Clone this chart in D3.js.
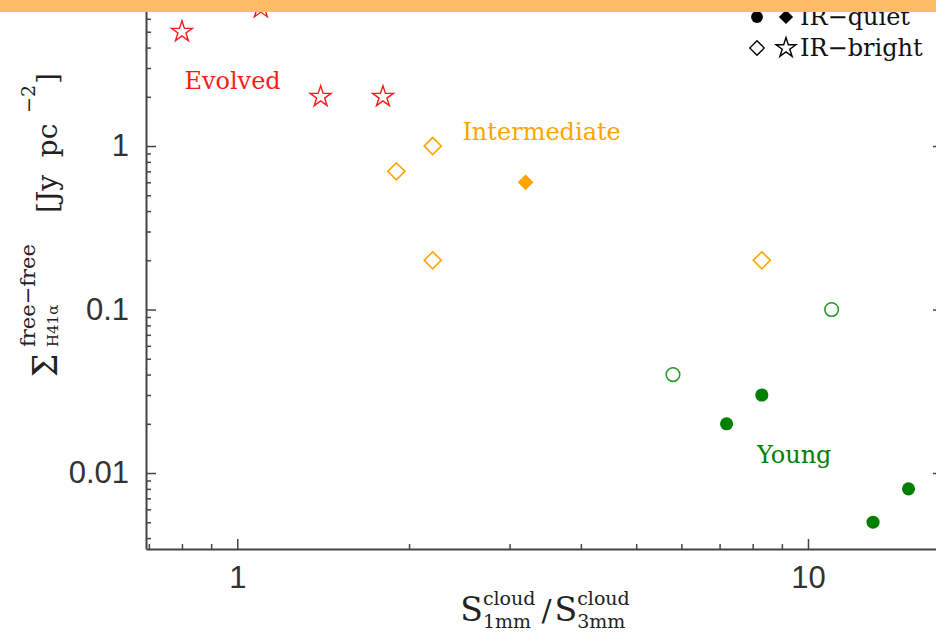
<!DOCTYPE html>
<html><head><meta charset="utf-8">
<script src="https://cdn.jsdelivr.net/npm/d3@7"></script>
<style>
body{margin:0;background:#fff}
svg{display:block}
.axis .domain{stroke:#444;stroke-width:2}
.axis line{stroke:#444;stroke-width:1.5}
.axis text{font-family:"Liberation Sans",Arial,sans-serif;font-size:31px;fill:#333}
.serif{font-family:"DejaVu Serif",serif}
</style>
</head><body><svg id="c" width="936" height="633"></svg>
<script>
// ---------------- data ----------------
const evolvedBrightX = [0.8, 1.1, 1.4, 1.8];
const evolvedBrightY = [5, 7, 2, 2];
const interBrightX = [1.9, 2.2, 2.2, 8.3];
const interBrightY = [0.7, 1, 0.2, 0.2];
const interQuietX = [3.2];
const interQuietY = [0.6];
const youngBrightX = [5.8, 11];
const youngBrightY = [0.04, 0.1];
const youngQuietX = [7.2, 8.3, 13, 15];
const youngQuietY = [0.02, 0.03, 0.005, 0.008];
const xMajorTicks = [1, 10];
const xTickLabels = ["1", "10"];
const yMajorTicks = [0.01, 0.1, 1];
const yTickLabels = ["0.01", "0.1", "1"];
const groupLabels = ["Evolved", "Intermediate", "Young"];
const legendLabels = ["IR\u2212quiet", "IR\u2212bright"];

// ---------------- setup ----------------
const svg = d3.select("#c");
const W = 936, H = 633;
const L = 146, R = 943, T = -4, B = 549;
const x = d3.scaleLog().domain([0.692, 17.24]).range([L, R]);
const y = d3.scaleLog().domain([0.00343, 8.27]).range([B, T]);

function minorTicks(dom) {
  const out = [];
  for (let e = -4; e <= 2; e++) for (let m = 2; m <= 9; m++) {
    const v = m * Math.pow(10, e);
    if (v > dom[0] && v < dom[1]) out.push(+v.toPrecision(3));
  }
  return out;
}
const xMinor = minorTicks(x.domain());
const yMinor = minorTicks(y.domain());

// axes
const axes = svg.append("g").attr("class", "axis");
axes.append("g").attr("transform", `translate(0,${B})`)
  .call(d3.axisBottom(x).tickValues(xMajorTicks).tickSize(-10).tickSizeOuter(0).tickPadding(17)
    .tickFormat((d, i) => xTickLabels[i]));
axes.append("g").attr("transform", `translate(0,${B})`)
  .call(d3.axisBottom(x).tickValues(xMinor).tickSize(-5).tickSizeOuter(0).tickFormat(""))
  .select(".domain").remove();
axes.append("g").attr("transform", `translate(${L},0)`)
  .call(d3.axisLeft(y).tickValues(yMajorTicks).tickSize(-10).tickSizeOuter(0).tickPadding(17)
    .tickFormat((d, i) => yTickLabels[i]));
axes.append("g").attr("transform", `translate(${L},0)`)
  .call(d3.axisLeft(y).tickValues(yMinor).tickSize(-5).tickSizeOuter(0).tickFormat(""))
  .select(".domain").remove();
axes.append("g").attr("transform", `translate(${R},0)`)
  .call(d3.axisRight(y).tickValues(yMajorTicks).tickSize(-10).tickSizeOuter(0).tickFormat(""));
axes.append("g").attr("transform", `translate(${R},0)`)
  .call(d3.axisRight(y).tickValues(yMinor).tickSize(-5).tickSizeOuter(0).tickFormat(""))
  .select(".domain").remove();
axes.append("g").attr("transform", `translate(0,${T})`)
  .call(d3.axisTop(x).tickValues(xMajorTicks).tickSize(-10).tickSizeOuter(0).tickFormat(""));
axes.append("g").attr("transform", `translate(0,${T})`)
  .call(d3.axisTop(x).tickValues(xMinor).tickSize(-5).tickSizeOuter(0).tickFormat(""))
  .select(".domain").remove();

// ---------------- markers ----------------
const RED = "#ff1a1a", ORANGE = "#ffa500", GREEN = "#008000";
const star = d3.symbol().type(d3.symbolStar).size(135)();
const diamondOpen = d3.symbol().type(d3.symbolSquare).size(145)();
const diamondFill = d3.symbol().type(d3.symbolSquare).size(125)();
const circleFill = d3.symbol().type(d3.symbolCircle).size(135)();
const circleOpen = d3.symbol().type(d3.symbolCircle).size(145)();

function plot(xs, ys, path, rot, fill, stroke, sw) {
  svg.append("g").selectAll("path").data(xs.map((v, i) => [v, ys[i]])).join("path")
    .attr("d", path)
    .attr("transform", d => `translate(${x(d[0])},${y(d[1])}) rotate(${rot})`)
    .attr("fill", fill).attr("stroke", stroke).attr("stroke-width", sw);
}
plot(evolvedBrightX, evolvedBrightY, star, 0, "none", RED, 1.4);
plot(interBrightX, interBrightY, diamondOpen, 45, "none", ORANGE, 1.6);
plot(interQuietX, interQuietY, diamondFill, 45, ORANGE, "none", 0);
plot(youngBrightX, youngBrightY, circleOpen, 0, "none", "#2a9a2a", 1.6);
plot(youngQuietX, youngQuietY, circleFill, 0, GREEN, "none", 0);

// ---------------- group labels ----------------
const groupPos = [[0.808, 2.23, RED], [2.48, 1.088, ORANGE], [8.14, 0.0115, GREEN]];
groupLabels.forEach((t, i) => {
  svg.append("text").attr("class", "serif")
    .attr("x", x(groupPos[i][0])).attr("y", y(groupPos[i][1]))
    .attr("fill", groupPos[i][2]).style("font-size", "24px").text(t);
});

// ---------------- legend ----------------
const lg = svg.append("g");
const legendRows = [
  {y: 17, m1: [circleFill, 0, "#000", "none", 0.9], m2: [diamondFill, 45, "#000", "none", 0.9]},
  {y: 48, m1: [diamondOpen, 45, "none", "#000", 0.85], m2: [star, 0, "none", "#000", 0.95]}
];
legendRows.forEach((r, i) => {
  [[757, r.m1], [786, r.m2]].forEach(([cx, m]) => {
    lg.append("path").attr("d", m[0])
      .attr("transform", `translate(${cx},${r.y}) rotate(${m[1]}) scale(${m[4]})`)
      .attr("fill", m[2]).attr("stroke", m[3]).attr("stroke-width", 1.5);
  });
  lg.append("text").attr("class", "serif").attr("x", 800).attr("y", r.y + 8)
    .style("font-size", "24px").attr("fill", "#111").text(legendLabels[i]);
});

// ---------------- x title (math style) ----------------
function mathLabel(g, items) {
  let cur = 0;
  items.forEach(it => {
    if (it.gap) { cur += it.gap; return; }
    if (it.text !== undefined) {
      const t = g.append("text").attr("class", "serif").attr("x", cur).attr("y", 0)
        .style("font-size", it.size + "px").attr("fill", "#222").text(it.text);
      cur += t.node().getComputedTextLength();
    }
    let w = 0;
    if (it.sup) {
      const t = g.append("text").attr("class", "serif").attr("x", cur).attr("y", it.supDy)
        .style("font-size", it.supSize + "px").attr("fill", "#222").text(it.sup);
      w = Math.max(w, t.node().getComputedTextLength());
    }
    if (it.sub) {
      const t = g.append("text").attr("class", "serif").attr("x", cur).attr("y", it.subDy)
        .style("font-size", it.subSize + "px").attr("fill", "#222").text(it.sub);
      w = Math.max(w, t.node().getComputedTextLength());
    }
    cur += w;
  });
  return cur;
}
const xt = svg.append("g");
const xw = mathLabel(xt, [
  {text: "S", size: 33, sup: "cloud", supSize: 19, supDy: -16, sub: "1mm", subSize: 19, subDy: 7},
  {gap: 6},
  {text: "/", size: 30},
  {gap: 3},
  {text: "S", size: 33, sup: "cloud", supSize: 19, supDy: -16, sub: "3mm", subSize: 19, subDy: 7}
]);
xt.attr("transform", `translate(${545 - xw / 2},621)`);

// ---------------- y title (rotated, explicit layout) ----------------
const yt = svg.append("g").attr("transform", "translate(57,377) rotate(-90)").attr("fill", "#222");
yt.append("text").attr("class", "serif").attr("x", 0).attr("y", 0).style("font-size", "33px").text("\u03a3");
yt.append("text").attr("class", "serif").attr("x", 30).attr("y", -22).style("font-size", "21px").text("free\u2212free");
yt.append("text").attr("class", "serif").attr("x", 30).attr("y", 1).style("font-size", "15px").text("H41\u03b1");
yt.append("text").attr("class", "serif").attr("x", 164).attr("y", 0).style("font-size", "28px").text("[Jy\u00a0\u00a0pc");
yt.append("text").attr("class", "serif").attr("x", 264).attr("y", -22).style("font-size", "19px").text("\u22122");
yt.append("text").attr("class", "serif").attr("x", 293).attr("y", 0).style("font-size", "28px").text("]");

// top band
svg.append("rect").attr("x", 0).attr("y", 0).attr("width", W).attr("height", 12).attr("fill", "#ffbb66");
</script>
</body></html>
